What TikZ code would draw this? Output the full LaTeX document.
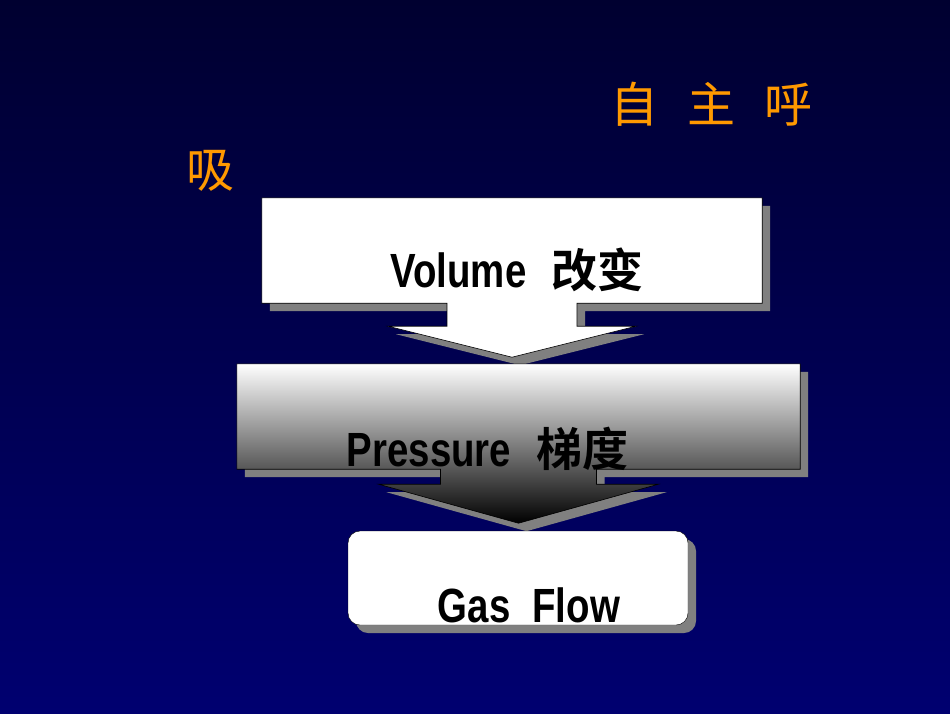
\documentclass[tikz,border=0pt]{standalone}
\usepackage{fontspec}
\setmainfont{Liberation Sans}
\newfontfamily\latinbold{Liberation Sans Bold}[FakeStretch=0.8]
\newfontfamily\hanbold{Noto Sans CJK SC Bold}
\newfontfamily\hantitle{Noto Sans CJK SC}
\usepackage{tikz}
\usetikzlibrary{positioning,calc,shadows}
\definecolor{bgtop}{RGB}{0,0,48}
\definecolor{bgbottom}{RGB}{0,0,112}
\definecolor{shadowgray}{RGB}{128,128,128}
\definecolor{titleorange}{RGB}{255,153,0}
\tikzset{
panel/.style={
  rectangle,
  minimum width=#1,
  minimum height=105pt,
  inner sep=0pt
  },
gasbox/.style={
  draw=black,
  fill=white,
  rounded corners=12pt,
  minimum width=340pt,
  minimum height=94pt,
  inner sep=0pt,
  drop shadow={shadow xshift=8pt, shadow yshift=-8pt, opacity=1, fill=shadowgray}
  },
boxtext/.style={anchor=base, inner sep=0pt, font=\latinbold\fontsize{48}{56}\selectfont},
titletext/.style={anchor=base west, inner sep=0pt, text=titleorange, font=\hantitle\fontsize{48}{56}\selectfont},
outline/.style={draw=black, line width=0.6pt}
}
% box with a down arrow under it: options, node, stem half, head half, head drop, tip drop, offset
\newcommand{\calloutpath}[7]{%
  \path[#1] ($(#2.north west)+(#7,#7)$) -- ($(#2.north east)+(#7,#7)$)
    -- ($(#2.south east)+(#7,#7)$) -- ($(#2.south)+(#3+#7,#7)$)
    -- ($(#2.south)+(#3+#7,#5+#7)$) -- ($(#2.south)+(#4+#7,#5+#7)$)
    -- ($(#2.south)+(#7,#6+#7)$) -- ($(#2.south)+(-#4+#7,#5+#7)$)
    -- ($(#2.south)+(-#3+#7,#5+#7)$) -- ($(#2.south)+(-#3+#7,#7)$)
    -- ($(#2.south west)+(#7,#7)$) -- cycle;}
\newcommand{\han}[1]{{\hanbold\fontsize{46}{56}\selectfont #1}}

\begin{document}
\begin{tikzpicture}[x=1pt,y=-1pt]
\useasboundingbox (0,0) rectangle (950,713);
\shade[top color=bgtop, bottom color=bgbottom] (0,0) rectangle (950,713);

% title
\node[titletext] (title) at (610,122) {自\hspace{29pt}主\hspace{29pt}呼};
\node[titletext] (titlecont) at (186,187) {吸};

% volume
\node[panel=500pt] (vol) at (512,250.5) {};
\calloutpath{fill=shadowgray}{vol}{65}{124}{23}{54}{8}
\calloutpath{fill=white, outline}{vol}{65}{124}{23}{54}{0}
\node[boxtext] (voltext) at ($(vol.south)+(5,-16)$) {Volume\hspace{25pt}\han{改变}};

% pressure
\node[panel=563pt] (press) at (518.5,416.5) {};
\calloutpath{fill=shadowgray}{press}{78}{140}{15}{54}{8}
\calloutpath{top color=white, bottom color=black, outline}{press}{78}{140}{15}{54}{0}
\node[boxtext] (presstext) at ($(press.south)+(-31,-3)$) {Pressure\hspace{25pt}\han{梯度}};

% gas flow
\node[gasbox] (gas) at (518,578) {};
\node[boxtext] (gastext) at ($(gas.south)+(11,-3)$) {Gas\hspace{22pt}Flow};
\end{tikzpicture}
\end{document}
